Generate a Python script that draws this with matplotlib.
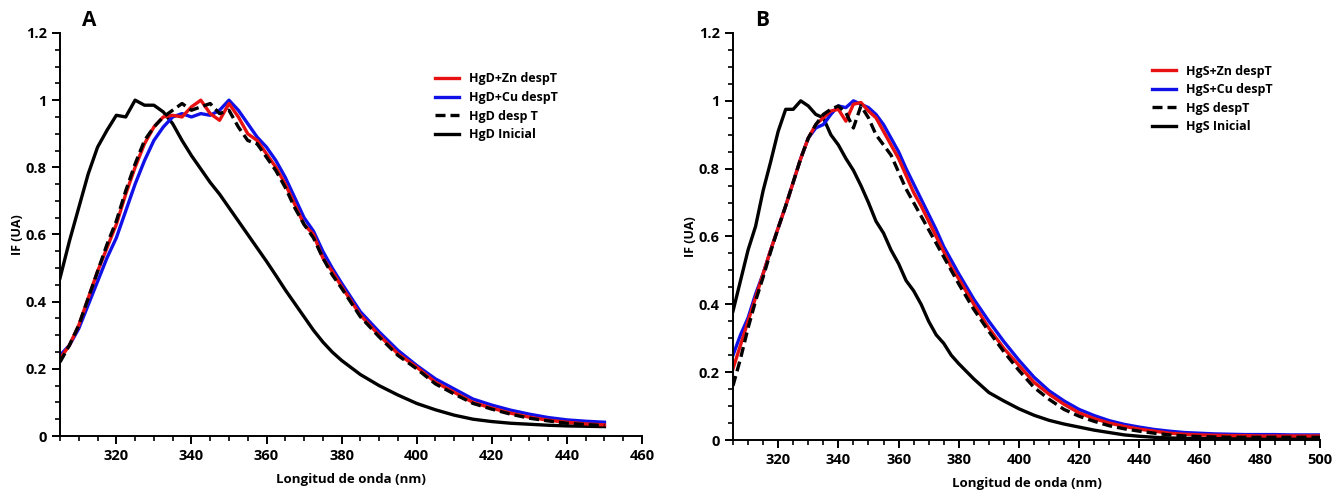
import matplotlib
matplotlib.use("Agg")
import matplotlib.pyplot as plt
from matplotlib.ticker import MultipleLocator, FormatStrFormatter

plt.rcParams['font.family'] = ['Open Sans', 'DejaVu Sans']
plt.rcParams['font.weight'] = 'bold'

# ---- panel A data (HgD) ----
wl_a = [305, 307.5, 310, 312.5, 315, 317.5, 320, 322.5, 325, 327.5, 330, 332.5, 335, 337.5,
        340, 342.5, 345, 347.5, 350, 352.5, 355, 357.5, 360, 362.5, 365, 367.5, 370, 372.5,
        375, 377.5, 380, 385, 390, 395, 400, 405, 410, 415, 420, 425, 430, 435, 440, 445, 450]
hgd_zn = [0.23, 0.27, 0.33, 0.41, 0.49, 0.56, 0.63, 0.72, 0.80, 0.87, 0.92, 0.95, 0.955, 0.95,
          0.98, 1.00, 0.96, 0.94, 0.99, 0.95, 0.90, 0.88, 0.84, 0.80, 0.75, 0.69, 0.63, 0.60,
          0.53, 0.49, 0.445, 0.36, 0.30, 0.245, 0.205, 0.16, 0.13, 0.10, 0.083, 0.068, 0.056,
          0.047, 0.041, 0.036, 0.033]
hgd_cu = [0.24, 0.27, 0.32, 0.39, 0.46, 0.53, 0.59, 0.67, 0.75, 0.82, 0.88, 0.92, 0.95, 0.96,
          0.95, 0.96, 0.955, 0.97, 1.00, 0.97, 0.93, 0.89, 0.86, 0.82, 0.77, 0.71, 0.65, 0.61,
          0.55, 0.50, 0.455, 0.37, 0.31, 0.255, 0.21, 0.17, 0.14, 0.11, 0.092, 0.077, 0.065,
          0.055, 0.048, 0.044, 0.041]
hgd_desp = [0.22, 0.27, 0.33, 0.41, 0.49, 0.57, 0.64, 0.73, 0.81, 0.88, 0.92, 0.95, 0.97, 0.99,
            0.97, 0.98, 0.99, 0.96, 0.97, 0.92, 0.88, 0.87, 0.83, 0.79, 0.74, 0.68, 0.63, 0.59,
            0.53, 0.48, 0.44, 0.355, 0.295, 0.24, 0.20, 0.155, 0.125, 0.097, 0.08, 0.065, 0.053,
            0.045, 0.038, 0.034, 0.031]
hgd_ini = [0.47, 0.58, 0.68, 0.78, 0.86, 0.91, 0.955, 0.95, 1.00, 0.985, 0.985, 0.965, 0.93, 0.88,
           0.835, 0.795, 0.755, 0.72, 0.68, 0.64, 0.60, 0.56, 0.52, 0.478, 0.435, 0.395, 0.355,
           0.315, 0.28, 0.25, 0.225, 0.183, 0.15, 0.122, 0.097, 0.078, 0.062, 0.05, 0.043, 0.038,
           0.035, 0.032, 0.030, 0.029, 0.028]

# ---- panel B data (HgS) ----
wl_b = [305, 307.5, 310, 312.5, 315, 317.5, 320, 322.5, 325, 327.5, 330, 332.5, 335, 337.5,
        340, 342.5, 345, 347.5, 350, 352.5, 355, 357.5, 360, 362.5, 365, 367.5, 370, 372.5,
        375, 377.5, 380, 385, 390, 395, 400, 405, 410, 415, 420, 425, 430, 435, 440, 445, 450,
        455, 460, 465, 470, 475, 480, 485, 490, 495, 500]
hgs_zn = [0.21, 0.28, 0.35, 0.42, 0.49, 0.56, 0.625, 0.69, 0.76, 0.83, 0.89, 0.93, 0.95, 0.97,
          0.975, 0.94, 0.99, 0.995, 0.97, 0.95, 0.91, 0.87, 0.83, 0.78, 0.73, 0.69, 0.645, 0.60,
          0.555, 0.51, 0.475, 0.40, 0.33, 0.27, 0.22, 0.17, 0.135, 0.105, 0.08, 0.063, 0.05,
          0.04, 0.032, 0.026, 0.02, 0.017, 0.015, 0.014, 0.013, 0.013, 0.012, 0.012, 0.012,
          0.012, 0.012]
hgs_cu = [0.25, 0.31, 0.36, 0.43, 0.49, 0.56, 0.625, 0.69, 0.76, 0.83, 0.89, 0.92, 0.93, 0.96,
          0.985, 0.98, 1.00, 0.99, 0.98, 0.96, 0.93, 0.89, 0.85, 0.80, 0.755, 0.71, 0.665, 0.62,
          0.57, 0.53, 0.49, 0.415, 0.35, 0.29, 0.235, 0.185, 0.145, 0.115, 0.09, 0.072, 0.057,
          0.046, 0.038, 0.031, 0.026, 0.022, 0.02, 0.018, 0.017, 0.016, 0.016, 0.016, 0.015,
          0.015, 0.015]
hgs_desp = [0.16, 0.24, 0.33, 0.41, 0.48, 0.555, 0.625, 0.69, 0.76, 0.83, 0.89, 0.93, 0.96, 0.975,
            0.985, 0.965, 0.92, 0.985, 0.95, 0.90, 0.87, 0.84, 0.79, 0.74, 0.70, 0.66, 0.62, 0.58,
            0.54, 0.50, 0.46, 0.385, 0.32, 0.26, 0.205, 0.155, 0.12, 0.09, 0.07, 0.055, 0.042,
            0.033, 0.026, 0.02, 0.015, 0.012, 0.01, 0.009, 0.008, 0.008, 0.008, 0.008, 0.008,
            0.008, 0.008]
hgs_ini = [0.38, 0.47, 0.56, 0.63, 0.735, 0.82, 0.91, 0.975, 0.975, 1.00, 0.985, 0.96, 0.95, 0.90,
           0.87, 0.83, 0.795, 0.75, 0.70, 0.645, 0.61, 0.56, 0.52, 0.47, 0.44, 0.40, 0.35, 0.31,
           0.285, 0.25, 0.225, 0.18, 0.14, 0.115, 0.092, 0.073, 0.058, 0.047, 0.038, 0.029, 0.022,
           0.015, 0.011, 0.008, 0.006, 0.005, 0.005, 0.004, 0.004, 0.004, 0.004, 0.004, 0.004,
           0.004, 0.004]

labels_a = ["HgD+Zn despT", "HgD+Cu despT", "HgD desp T", "HgD Inicial"]
labels_b = ["HgS+Zn despT", "HgS+Cu despT", "HgS despT", "HgS Inicial"]


def draw_panel(ax, wl, zn, cu, desp, ini, labels, xmax, letter, leg_pos):
    l_ini, = ax.plot(wl, ini, color="black", lw=2.4)
    l_cu, = ax.plot(wl, cu, color="#1010e8", lw=2.4)
    l_zn, = ax.plot(wl, zn, color="#e81010", lw=2.4)
    l_desp, = ax.plot(wl, desp, color="black", lw=2.4, linestyle=(0, (3, 1.5)))
    ax.set_xlim(305, xmax)
    ax.set_ylim(0, 1.2)
    ax.xaxis.set_minor_locator(MultipleLocator(5))
    ax.yaxis.set_major_locator(MultipleLocator(0.2))
    ax.yaxis.set_minor_locator(MultipleLocator(0.05))
    ax.yaxis.set_major_formatter(FormatStrFormatter("%g"))
    ax.set_xticks(list(range(320, xmax + 1, 20)))
    for s in ["top", "right"]:
        ax.spines[s].set_visible(False)
    for s in ["left", "bottom"]:
        ax.spines[s].set_linewidth(1.4)
    ax.tick_params(which="major", direction="out", length=6, width=1.4, labelsize=10.5)
    ax.tick_params(which="minor", direction="out", length=3.5, width=1.2)
    ax.set_xlabel("Longitud de onda (nm)", fontsize=9.5, fontweight="bold", labelpad=7)
    ax.set_ylabel("IF (UA)", fontsize=9, fontweight="bold", labelpad=1)
    ax.text(0.05, 1.03, letter, transform=ax.transAxes, fontsize=15, fontweight="bold",
            ha="center", va="center")
    leg = ax.legend([l_zn, l_cu, l_desp, l_ini], labels, loc="upper left",
                    bbox_to_anchor=leg_pos, frameon=False, fontsize=9,
                    handlelength=1.9, handletextpad=0.8, labelspacing=0.45)
    for t in leg.get_texts():
        t.set_fontweight("bold")


fig = plt.figure(figsize=(13.4, 4.93), dpi=100)
ax_a = fig.add_axes([60 / 1340, 57 / 493, 582 / 1340, 403 / 493])
ax_b = fig.add_axes([733 / 1340, 53 / 493, 587 / 1340, 407 / 493])

draw_panel(ax_a, wl_a, hgd_zn, hgd_cu, hgd_desp, hgd_ini, labels_a, 460, "A", (0.625, 0.93))
draw_panel(ax_b, wl_b, hgs_zn, hgs_cu, hgs_desp, hgs_ini, labels_b, 500, "B", (0.695, 0.95))

fig.savefig("out.png", dpi=100)
